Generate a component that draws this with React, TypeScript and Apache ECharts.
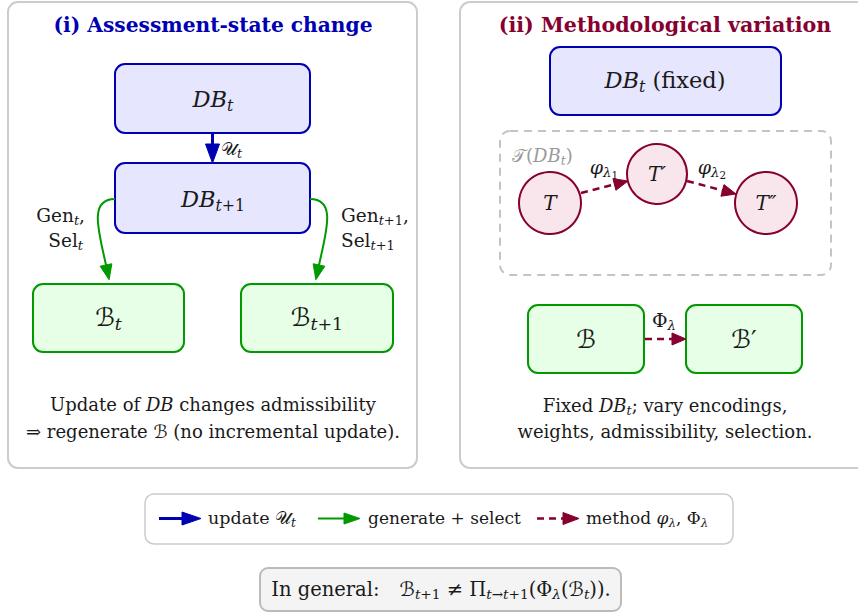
import React, { useEffect, useRef } from 'react';
import * as echarts from 'echarts';

const W = 858;
const H = 615;
const FONT = '"DejaVu Serif", "DejaVu Sans", serif';

const BLUE = '#0000B3';
const BLUE_FILL = '#E6E6FF';
const GREEN = '#009900';
const GREEN_FILL = '#E6FFE6';
const MAROON = '#860030';
const MAROON_FILL = '#F9E6EC';
const INK = '#1a1a1a';
const PANEL = '#cccccc';

type Seg = { t: string; l?: number; i?: boolean; g?: number };
const R = (t: string): Seg => ({ t });
const I = (t: string): Seg => ({ t, i: true });
const S = (t: string, i = true): Seg => ({ t, l: 1, i });
const SS = (t: string, i = false): Seg => ({ t, l: 2, i });
const GAP = (g: number): Seg => ({ t: '', g });

// ---- labels (content) ----
const titles = ['(i) Assessment-state change', '(ii) Methodological variation'];
const dbLabels: Seg[][] = [
  [I('DB'), S('t')],
  [I('DB'), S('t'), S('+1', false)],
  [I('DB'), S('t'), R(' (fixed)')],
];
const bundleLabels: Seg[][] = [
  [R('ℬ'), S('t')],
  [R('ℬ'), S('t'), S('+1', false)],
  [R('ℬ')],
  [R('ℬ′')],
];
const updateLabel: Seg[] = [R('𝒰'), S('t')];
const genLabels: Seg[][] = [
  [R('Gen'), S('t'), R(',')],
  [R('Sel'), S('t')],
  [R('Gen'), S('t'), S('+1', false), R(',')],
  [R('Sel'), S('t'), S('+1', false)],
];
const spaceLabel: Seg[] = [R('𝒯('), I('DB'), S('t'), R(')')];
const stateLabels: Seg[][] = [[I('T')], [I('T′')], [I('T″')]];
const stepLabels: Seg[][] = [
  [I('φ'), S('λ'), SS('1')],
  [I('φ'), S('λ'), SS('2')],
  [R('Φ'), S('λ')],
];
const leftCaption: Seg[][] = [
  [R('Update of '), I('DB'), R(' changes admissibility')],
  [R('⇒ regenerate ℬ (no incremental update).')],
];
const rightCaption: Seg[][] = [
  [R('Fixed '), I('DB'), S('t'), R('; vary encodings,')],
  [R('weights, admissibility, selection.')],
];
const legendLabels: Seg[][] = [
  [R('update '), R('𝒰'), S('t')],
  [R('generate + select')],
  [R('method '), I('φ'), S('λ'), R(', Φ'), S('λ')],
];
const summary: Seg[] = [
  R('In general:'), GAP(20), R('ℬ'), S('t'), S('+1', false), R(' ≠ Π'),
  S('t→t', true), S('+1', false), R('(Φ'), S('λ'), R('(ℬ'), S('t'), R(')).'),
];

// ---- helpers ----
let ctx: CanvasRenderingContext2D | null = null;
function measure(text: string, size: number, italic: boolean, bold: boolean) {
  if (!ctx) ctx = document.createElement('canvas').getContext('2d');
  if (!ctx) return text.length * size * 0.55;
  ctx.font = `${italic ? 'italic ' : ''}${bold ? 'bold ' : ''}${size}px ${FONT}`;
  return ctx.measureText(text).width;
}

function mathText(
  segs: Seg[], x: number, y: number, F: number, color: string,
  align: 'left' | 'center' | 'right' = 'center', bold = false,
) {
  const items = segs.map((s) => {
    const lvl = s.l || 0;
    const size = lvl === 0 ? F : lvl === 1 ? F * 0.7 : F * 0.55;
    const off = lvl === 0 ? 0 : lvl === 1 ? F * 0.28 : F * 0.42;
    const w = s.g !== undefined ? s.g : measure(s.t, size, !!s.i, bold);
    const lead = s.t.length - s.t.trimStart().length;
    const leadW = lead ? measure(' '.repeat(lead), size, !!s.i, bold) : 0;
    return { s, size, off, w, leadW };
  });
  const total = items.reduce((a, b) => a + b.w, 0);
  let cx = align === 'left' ? x : align === 'center' ? x - total / 2 : x - total;
  const els: any[] = [];
  items.forEach((it) => {
    const txt = it.s.t.trim();
    if (txt) {
      els.push({
        type: 'text',
        x: cx + it.leadW,
        y: y + it.off,
        silent: true,
        style: {
          text: txt,
          fill: color,
          fontSize: it.size,
          fontFamily: FONT,
          fontStyle: it.s.i ? 'italic' : 'normal',
          fontWeight: bold ? 'bold' : 'normal',
          align: 'left',
          verticalAlign: 'middle',
          textAlign: 'left',
          textVerticalAlign: 'middle',
        },
      });
    }
    cx += it.w;
  });
  return els;
}

function rect(x: number, y: number, w: number, h: number, stroke: string, fill: string, lw = 2, r = 10, dash?: number[]) {
  return {
    type: 'rect',
    shape: { x, y, width: w, height: h, r },
    style: { stroke, fill, lineWidth: lw, lineDash: dash },
    silent: true,
  };
}

function arrowHead(tx: number, ty: number, ux: number, uy: number, len: number, hw: number, color: string) {
  const bx = tx - ux * len;
  const by = ty - uy * len;
  return {
    type: 'polygon',
    shape: { points: [[tx, ty], [bx - uy * hw, by + ux * hw], [bx + uy * hw, by - ux * hw]] },
    style: { fill: color, stroke: color, lineWidth: 1, lineJoin: 'miter' },
    silent: true,
  };
}

function arrow(x1: number, y1: number, x2: number, y2: number, color: string, lw: number, len: number, hw: number, dash?: number[]) {
  const dx = x2 - x1;
  const dy = y2 - y1;
  const L = Math.hypot(dx, dy);
  const ux = dx / L;
  const uy = dy / L;
  const bx = x2 - ux * (len - 1);
  const by = y2 - uy * (len - 1);
  return [
    {
      type: 'line',
      shape: { x1, y1, x2: bx, y2: by },
      style: { stroke: color, lineWidth: lw, lineDash: dash, lineCap: 'butt' },
      silent: true,
    },
    arrowHead(x2, y2, ux, uy, len, hw, color),
  ];
}

function curveArrow(x1: number, y1: number, c1x: number, c1y: number, c2x: number, c2y: number, ex: number, ey: number, color: string, lw: number, len: number, hw: number) {
  const dx = ex - c2x;
  const dy = ey - c2y;
  const L = Math.hypot(dx, dy);
  const ux = dx / L;
  const uy = dy / L;
  return [
    {
      type: 'bezierCurve',
      shape: { x1, y1, cpx1: c1x, cpy1: c1y, cpx2: c2x, cpy2: c2y, x2: ex + ux, y2: ey + uy },
      style: { stroke: color, lineWidth: lw, fill: 'none' },
      silent: true,
    },
    arrowHead(ex + ux * len, ey + uy * len, ux, uy, len, hw, color),
  ];
}

function circle(cx: number, cy: number, r: number) {
  return {
    type: 'circle',
    shape: { cx, cy, r },
    style: { fill: MAROON_FILL, stroke: MAROON, lineWidth: 2 },
    silent: true,
  };
}

function buildElements() {
  const els: any[] = [];
  // panels
  els.push(rect(8, 2, 409, 466, PANEL, '#ffffff', 2, 10));
  els.push(rect(460, 2, 420, 466, PANEL, '#ffffff', 2, 10));

  // ---------- left panel ----------
  els.push(...mathText([R(titles[0])], 213, 25, 20.2, BLUE, 'center', true));
  els.push(rect(115, 64, 195, 69, BLUE, BLUE_FILL, 2, 10));
  els.push(...mathText(dbLabels[0], 213, 99, 22.5, INK));
  els.push(...arrow(212.5, 133, 212.5, 163, BLUE, 3, 19, 7));
  els.push(...mathText(updateLabel, 221, 148, 18, INK, 'left'));
  els.push(rect(115, 163, 195, 70, BLUE, BLUE_FILL, 2, 10));
  els.push(...mathText(dbLabels[1], 213, 199, 22.5, INK));

  els.push(...curveArrow(115, 199, 88, 199, 99, 232, 106, 265, GREEN, 2, 15, 6));
  els.push(...curveArrow(310, 199, 337, 199, 326, 232, 319, 265, GREEN, 2, 15, 6));
  els.push(...mathText(genLabels[0], 85, 215, 18.5, INK, 'right'));
  els.push(...mathText(genLabels[1], 83, 240, 18.5, INK, 'right'));
  els.push(...mathText(genLabels[2], 341, 215, 18.5, INK, 'left'));
  els.push(...mathText(genLabels[3], 341, 240, 18.5, INK, 'left'));

  els.push(rect(33, 284, 151, 68, GREEN, GREEN_FILL, 2, 10));
  els.push(rect(241, 284, 152, 68, GREEN, GREEN_FILL, 2, 10));
  els.push(...mathText(bundleLabels[0], 108.5, 317, 25, INK));
  els.push(...mathText(bundleLabels[1], 317, 317, 25, INK));

  els.push(...mathText(leftCaption[0], 213, 404, 18, INK));
  els.push(...mathText(leftCaption[1], 213, 431, 18, INK));

  // ---------- right panel ----------
  els.push(...mathText([R(titles[1])], 665, 25, 20.6, MAROON, 'center', true));
  els.push(rect(550, 47, 231, 68, BLUE, BLUE_FILL, 2, 10));
  els.push(...mathText(dbLabels[2], 665, 80, 22.5, INK));

  els.push(rect(500, 131, 331, 144, '#c4c4c4', 'none', 2, 10, [8, 6]));
  els.push(...mathText(spaceLabel, 512, 155, 18, '#9a9a9a', 'left'));

  els.push(...arrow(581, 193, 628, 181, MAROON, 2.5, 14, 6, [7, 5]));
  els.push(...arrow(687, 181, 736, 194, MAROON, 2.5, 14, 6, [7, 5]));
  els.push(circle(550, 203, 31));
  els.push(circle(657, 174, 30));
  els.push(circle(766, 203, 31));
  els.push(...mathText(stateLabels[0], 550, 203, 20, INK));
  els.push(...mathText(stateLabels[1], 657, 174, 20, INK));
  els.push(...mathText(stateLabels[2], 766, 203, 20, INK));
  els.push(...mathText(stepLabels[0], 604, 167, 19, INK));
  els.push(...mathText(stepLabels[1], 712, 167, 19, INK));

  els.push(rect(528, 305, 116, 68, GREEN, GREEN_FILL, 2, 10));
  els.push(rect(686, 305, 116, 68, GREEN, GREEN_FILL, 2, 10));
  els.push(...arrow(645, 339, 686, 339, MAROON, 2.5, 14, 6, [7, 5]));
  els.push(...mathText(stepLabels[2], 664, 320, 19, INK));
  els.push(...mathText(bundleLabels[2], 586, 339, 25, INK));
  els.push(...mathText(bundleLabels[3], 744, 339, 25, INK));

  els.push(...mathText(rightCaption[0], 665, 405, 18, INK));
  els.push(...mathText(rightCaption[1], 665, 431, 18, INK));

  // ---------- legend ----------
  els.push(rect(145, 494, 588, 50, PANEL, '#ffffff', 1.5, 9));
  els.push(...arrow(159, 518.5, 201, 518.5, BLUE, 3, 19, 6.5));
  els.push(...mathText(legendLabels[0], 208, 518, 17.5, INK, 'left'));
  els.push(...arrow(318, 518.5, 360, 518.5, GREEN, 2, 16, 5.5));
  els.push(...mathText(legendLabels[1], 368, 518, 17, INK, 'left'));
  els.push(...arrow(537, 518.5, 579, 518.5, MAROON, 2.5, 16, 6, [7, 5]));
  els.push(...mathText(legendLabels[2], 586, 518, 17, INK, 'left'));

  // ---------- summary ----------
  els.push(rect(260, 568, 361, 43, '#bbbbbb', '#f4f4f4', 2, 8));
  els.push(...mathText(summary, 441, 589, 19.5, INK));

  return els;
}

export default function App() {
  const ref = useRef<HTMLDivElement>(null);
  useEffect(() => {
    if (!ref.current) return;
    const chart = echarts.init(ref.current, undefined, { renderer: 'svg', width: W, height: H });
    chart.setOption({
      animation: false,
      backgroundColor: '#ffffff',
      graphic: { elements: buildElements() },
    });
    return () => chart.dispose();
  }, []);
  return (
    <div
      ref={ref}
      style={{ position: 'fixed', left: 0, top: 0, width: W, height: H, background: '#fff' }}
    />
  );
}
